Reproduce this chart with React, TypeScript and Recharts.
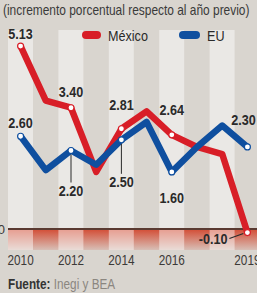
import React from 'react';
import { ComposedChart, Line, Bar, XAxis, YAxis, ReferenceLine, ReferenceArea } from 'recharts';

// crecimiento anual del PIB (%), México vs EU
const years = ['2010', '2011', '2012', '2013', '2014', '2015', '2016', '2017', '2018', '2019'];
const mexico = [5.13, 3.6, 3.4, 1.6, 2.81, 3.3, 2.64, 2.3, 2.1, -0.1];
const eu = [2.6, 1.65, 2.2, 1.8, 2.5, 3.0, 1.6, 2.3, 2.9, 2.3];
const tickYears = ['2010', '2012', '2014', '2016', '2019'];
const shadedYears = ['2010', '2012', '2014', '2016', '2018'];

const Y_DOMAIN: [number, number] = [-0.59, 5.58];

const C = {
  bg: '#d9d5cf',
  red: '#d81e27',
  blue: '#0f4f9f',
  text: '#2a2a2a',
  axis: '#3c3a38',
  zero: '#5a3a31',
  muted: '#8b8680',
};
// no narrow face installed: squeeze Liberation Sans horizontally instead
const FONT = "'Liberation Sans', Arial, sans-serif";
const SQUEEZE = 0.84;

type Pos = { dx?: number; dy: number; anchor?: 'start' | 'middle' | 'end'; leader?: 'down' | 'left' };
// where each value label sits relative to its point
const MX_POS: Record<number, Pos> = {
  0: { dy: -7 },
  2: { dy: -11 },
  4: { dy: -19 },
  6: { dy: -20 },
  9: { dx: -20, dy: 11, anchor: 'end', leader: 'left' },
};
const EU_POS: Record<number, Pos> = {
  0: { dy: -8 },
  2: { dy: 45, leader: 'down' },
  4: { dy: 47, leader: 'down' },
  6: { dy: 31 },
  9: { dx: -4, dy: -22 },
};

const data = years.map((year, i) => ({
  year,
  mx: mexico[i],
  eu: eu[i],
  stripe: shadedYears.includes(year) ? Y_DOMAIN : null,
}));

const makeDot = (color: string, pos: Record<number, Pos>) => (props: any) => {
  const { cx, cy, index, value } = props;
  const p = pos[index];
  if (!p || cx == null || cy == null) return <g key={`d-${index}`} />;
  const tx = cx + (p.dx ?? 0);
  const ty = cy + p.dy;
  return (
    <g key={`d-${index}`}>
      {p.leader === 'down' && <line x1={cx} y1={cy + 4} x2={cx} y2={ty - 13} stroke={C.text} strokeWidth={1} />}
      {p.leader === 'left' && <line x1={tx + 2} y1={ty - 5} x2={cx - 4} y2={cy + 1} stroke={C.text} strokeWidth={1.2} />}
      <circle cx={cx} cy={cy} r={3} fill="#fff" stroke={color} strokeWidth={1.2} />
      <text transform={`translate(${tx},${ty}) scale(${SQUEEZE},1)`} textAnchor={p.anchor ?? 'middle'}
            fontFamily={FONT} fontSize={15} fontWeight={700} fill={C.text}>
        {Number(value).toFixed(2)}
      </text>
    </g>
  );
};

const YearTick = (props: any) => {
  const { x, y, payload } = props;
  if (!tickYears.includes(payload.value)) return <g />;
  return (
    <text transform={`translate(${x},${y + 9}) scale(${SQUEEZE},1)`} textAnchor="middle"
          fontFamily={FONT} fontSize={14} fill={C.axis}>
      {payload.value}
    </text>
  );
};

const squeezed: React.CSSProperties = {
  transform: `scaleX(${SQUEEZE})`,
  transformOrigin: 'left center',
  whiteSpace: 'nowrap',
};

const LegendItem: React.FC<{ color: string; label: string; left: number; w: number }> = ({ color, label, left, w }) => (
  <div style={{ position: 'absolute', left, top: 28, height: 14, display: 'flex', alignItems: 'center' }}>
    <span style={{ width: w, height: 8, borderRadius: 5, background: color, display: 'inline-block' }} />
    <span style={{ marginLeft: 7, fontSize: 15, color: C.text, ...squeezed }}>{label}</span>
  </div>
);

export default function App() {
  return (
    <div style={{ position: 'absolute', left: 0, top: 0, width: 257, height: 293, overflow: 'hidden',
                  background: C.bg, fontFamily: FONT }}>
      <ComposedChart width={260} height={293} data={data} barCategoryGap={0} barGap={0}
                     margin={{ top: 30, right: 0, bottom: 23, left: 8 }}
                     style={{ position: 'absolute', left: 0, top: 0 }}>
        <defs>
          <linearGradient id="negFade" x1="0" y1="0" x2="0" y2="1">
            <stop offset="0%" stopColor="#d2391f" stopOpacity={0.88} />
            <stop offset="100%" stopColor="#d2391f" stopOpacity={0.14} />
          </linearGradient>
        </defs>
        <XAxis dataKey="year" height={20} axisLine={false} tickLine={false} interval={0} tickMargin={0}
               tick={<YearTick />} />
        <YAxis hide domain={Y_DOMAIN} />
        <ReferenceArea y1={Y_DOMAIN[0]} y2={0} fill="url(#negFade)" fillOpacity={1} stroke="none" zIndex={-60} />
        <Bar dataKey="stripe" fill="#ffffff" fillOpacity={0.45} isAnimationActive={false} legendType="none" />
        <ReferenceLine y={0} stroke={C.zero} strokeWidth={2}
                       label={{ value: '0', position: 'left', offset: 3, fill: C.axis, fontSize: 13, fontFamily: FONT }} />
        <Line dataKey="mx" name="México" stroke={C.red} strokeWidth={6.5} strokeLinejoin="round"
              dot={makeDot(C.red, MX_POS)} activeDot={false} isAnimationActive={false} />
        <Line dataKey="eu" name="EU" stroke={C.blue} strokeWidth={6.5} strokeLinejoin="round"
              dot={makeDot(C.blue, EU_POS)} activeDot={false} isAnimationActive={false} />
      </ComposedChart>

      <div style={{ position: 'absolute', left: 3, top: 3, fontSize: 14.2, lineHeight: '15px', color: '#3a3a3a',
                    ...squeezed }}>
        (incremento porcentual respecto al año previo)
      </div>
      <LegendItem color={C.red} label="México" left={82} w={19} />
      <LegendItem color={C.blue} label="EU" left={179} w={21} />
      <div style={{ position: 'absolute', left: 8, top: 277, fontSize: 14, lineHeight: '15px', ...squeezed }}>
        <b style={{ color: '#333' }}>Fuente:</b> <span style={{ color: C.muted }}>Inegi y BEA</span>
      </div>
    </div>
  );
}
